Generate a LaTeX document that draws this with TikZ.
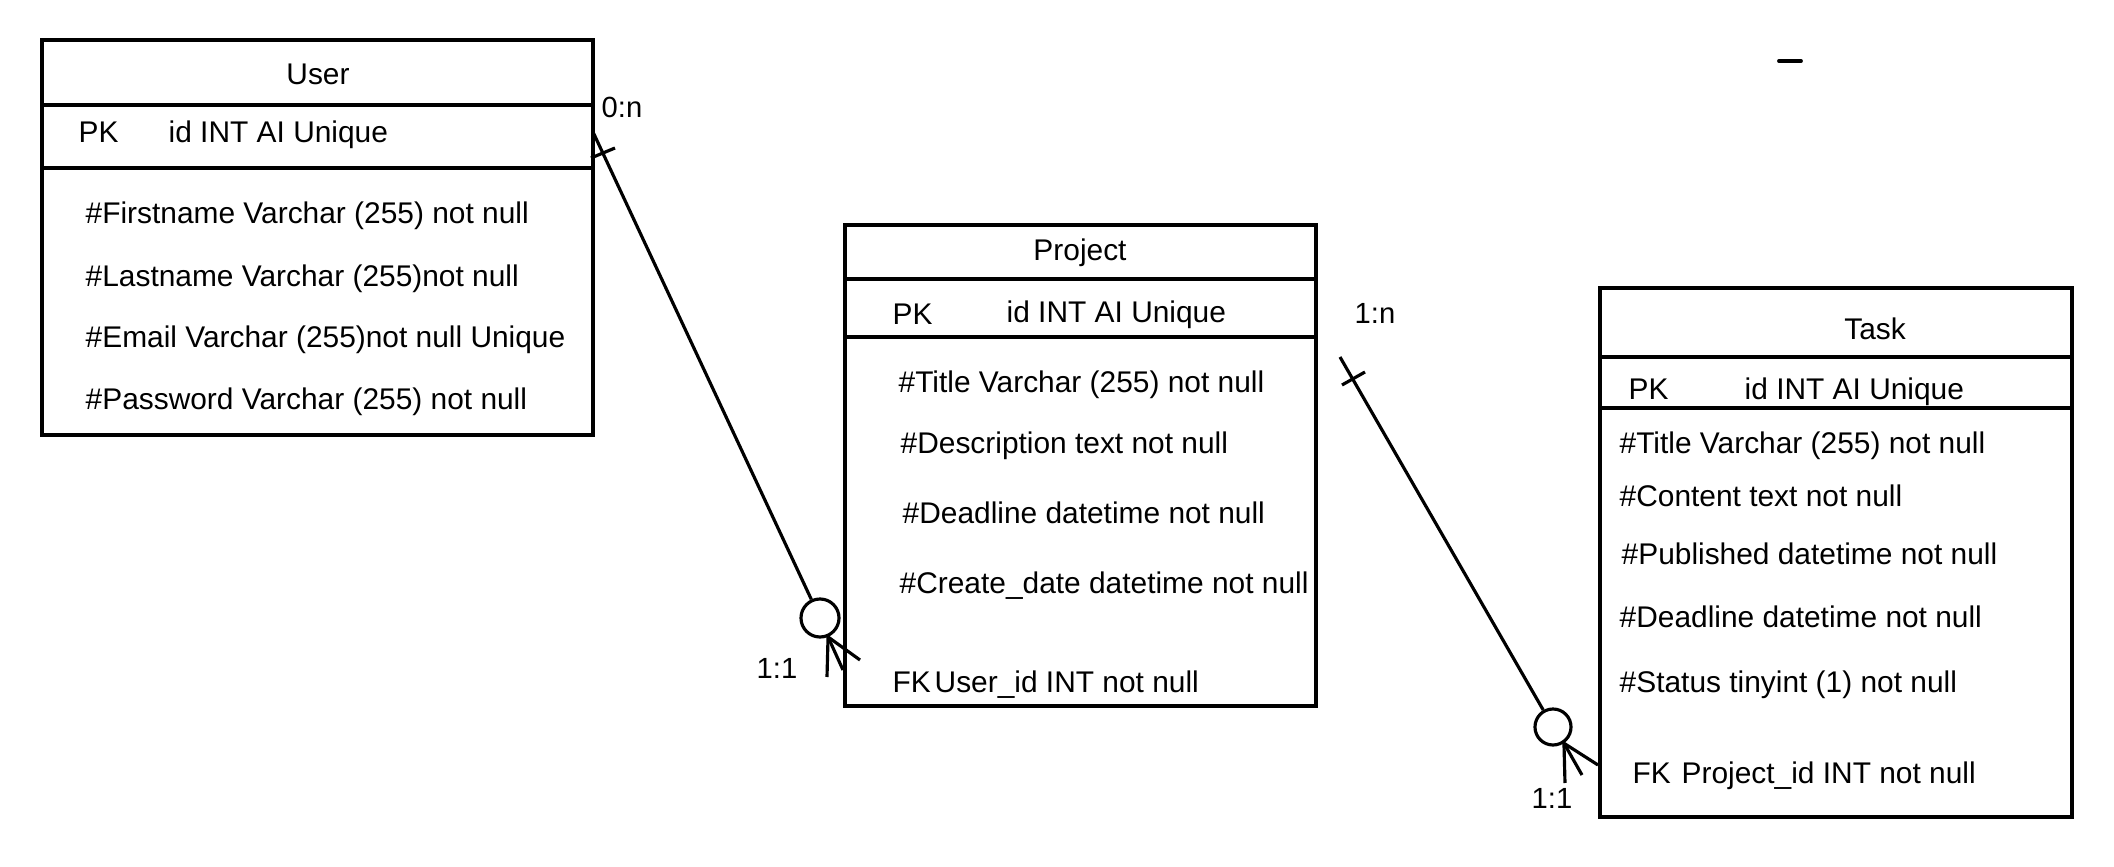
\documentclass[tikz,border=0pt]{standalone}
\usepackage{fontspec}
\setmainfont{Liberation Sans}
\usetikzlibrary{positioning}

\begin{document}
\begin{tikzpicture}[x=0.01cm, y=-0.01cm,
  tbl/.style={draw, line width=1.1pt},
  fld/.style={anchor=base west, inner sep=0pt, yshift=-0.11cm, font=\fontsize{8.5}{10}\selectfont},
  ttl/.style={anchor=base, inner sep=0pt, yshift=-0.11cm, font=\fontsize{8.5}{10}\selectfont},
  card/.style={anchor=base, inner sep=0pt, yshift=-0.105cm, font=\fontsize{8.3}{10}\selectfont},
  rel/.style={line width=0.9pt},
  ring/.style={draw, circle, line width=0.9pt, inner sep=0pt}]
\useasboundingbox (0,0) rectangle (2114,867);

% User
\draw[tbl] (42,40) rectangle (593,435);
\draw[tbl] (42,105) -- (593,105);
\draw[tbl] (42,168) -- (593,168);
\node[ttl] (userT) at (318,73) {User};
\node[fld] (userPK) at (78,131) {PK};
\node[fld] (userId) at (168,131) {id INT AI Unique};
\node[fld] (userF1) at (85,212) {\#Firstname Varchar (255) not null};
\node[fld] (userF2) at (85,275) {\#Lastname Varchar (255)not null};
\node[fld] (userF3) at (85,336) {\#Email Varchar (255)not null Unique};
\node[fld] (userF4) at (85,398) {\#Password Varchar (255) not null};

% Project
\draw[tbl] (845,225) rectangle (1316,706);
\draw[tbl] (845,279) -- (1316,279);
\draw[tbl] (845,337) -- (1316,337);
\node[ttl] (projT) at (1080,249) {Project};
\node[fld] (projPK) at (892,313) {PK};
\node[fld] (projId) at (1006,311) {id INT AI Unique};
\node[fld] (projF1) at (898,381) {\#Title Varchar (255) not null};
\node[fld] (projF2) at (900,442) {\#Description text not null};
\node[fld] (projF3) at (902,512) {\#Deadline datetime not null};
\node[fld] (projF4) at (899,582) {\#Create\_date datetime not null};
\node[fld] (projFK) at (892,681) {FK};
\node[fld] (projUid) at (934,681) {User\_id INT not null};

% Task
\draw[tbl] (1600,288) rectangle (2072,817);
\draw[tbl] (1600,357) -- (2072,357);
\draw[tbl] (1600,408) -- (2072,408);
\node[ttl] (taskT) at (1875,328) {Task};
\node[fld] (taskPK) at (1628,388) {PK};
\node[fld] (taskId) at (1744,388) {id INT AI Unique};
\node[fld] (taskF1) at (1619,442) {\#Title Varchar (255) not null};
\node[fld] (taskF2) at (1619,495) {\#Content text not null};
\node[fld] (taskF3) at (1621,553) {\#Published datetime not null};
\node[fld] (taskF4) at (1619,616) {\#Deadline datetime not null};
\node[fld] (taskF5) at (1619,681) {\#Status tinyint (1) not null};
\node[fld] (taskFK) at (1632,772) {FK};
\node[fld] (taskPid) at (1681,772) {Project\_id INT not null};

% User -- Project
\coordinate (u1) at (593,132);
\node[ring, minimum size=0.38cm] (c1) at (820,618) {};
\draw[rel] (u1) -- (c1);
\draw[rel] (591,158) -- (615,148);
\coordinate (f1) at (c1.-67);
\coordinate (f1a) at (827,677);
\coordinate (f1b) at (843,670);
\coordinate (f1c) at (860,660);
\draw[rel] (f1a) -- (f1) -- (f1c);
\draw[rel] (f1) -- (f1b);
\node[card] (lab1) at (622,107) {0:n};
\node[card] (lab2) at (777,668) {1:1};

% Project -- Task
\coordinate (p1) at (1340,357);
\node[ring, minimum size=0.36cm] (c2) at (1553,727) {};
\draw[rel] (p1) -- (c2);
\draw[rel] (1342,385) -- (1365,372);
\coordinate (f2) at (c2.-56);
\coordinate (f2a) at (1565,783);
\coordinate (f2b) at (1582,775);
\coordinate (f2c) at (1598,765);
\draw[rel] (f2a) -- (f2) -- (f2c);
\draw[rel] (f2) -- (f2b);
\node[card] (lab3) at (1375,313) {1:n};
\node[card] (lab4) at (1552,798) {1:1};

% stray mark
\coordinate (m1) at (1779,61);
\coordinate (m2) at (1801,61);
\draw[line width=1.1pt, line cap=round] (m1) -- (m2);
\end{tikzpicture}
\end{document}
